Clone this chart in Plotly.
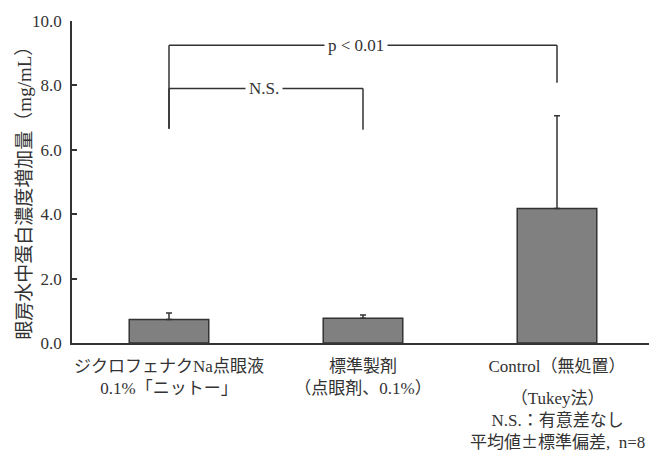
import plotly.graph_objects as go

categories = ["ジクロフェナクNa点眼液<br>0.1%「ニットー」", "標準製剤<br>（点眼剤、0.1%）", "Control（無処置）"]
means = [0.73, 0.77, 4.18]
sds = [0.20, 0.10, 2.88]
y_ticks = [0.0, 2.0, 4.0, 6.0, 8.0, 10.0]
y_title = "眼房水中蛋白濃度増加量（mg/mL）"
note_lines = ["（Tukey法）", "N.S.：有意差なし",
              "平均値<span style=\"font-family:Noto Sans CJK JP\">±</span>標準偏差,  n=8"]
# significance brackets: (from index, to index, bracket level, left foot, right foot, label, label x)
brackets = [
    (0, 2, 9.25, 6.65, 8.08, "p < 0.01", 0.965),
    (0, 1, 7.90, 6.65, 6.62, "N.S.", 0.49),
]

FONT = "Liberation Serif, Noto Sans CJK JP, serif"
INK = "#333333"

fig = go.Figure()
fig.add_trace(go.Bar(
    x=list(range(len(categories))),
    y=means,
    width=0.41,
    marker=dict(color="#808080", line=dict(color=INK, width=1.5)),
    error_y=dict(type="data", symmetric=False, array=sds, arrayminus=[0]*len(sds),
                 color=INK, thickness=1.5, width=3),
    showlegend=False,
))

shapes = []
annotations = []
for x0, x1, lvl, f0, f1, lab, lx in brackets:
    line = dict(color=INK, width=1.5)
    shapes.append(dict(type="line", xref="x", yref="y", x0=x0, x1=x1, y0=lvl, y1=lvl, line=line))
    shapes.append(dict(type="line", xref="x", yref="y", x0=x0, x1=x0, y0=f0, y1=lvl, line=line))
    shapes.append(dict(type="line", xref="x", yref="y", x0=x1, x1=x1, y0=f1, y1=lvl, line=line))
    annotations.append(dict(x=lx, y=lvl, xref="x", yref="y", text=lab, showarrow=False,
                            bgcolor="white", borderpad=3,
                            font=dict(family=FONT, size=17, color=INK)))

annotations.append(dict(x=2, y=-0.137, xref="x", yref="paper", yanchor="top",
                        text="<br>".join(note_lines), showarrow=False, align="center",
                        font=dict(family=FONT, size=17, color=INK)))
annotations.append(dict(x=-0.081, y=0.482, xref="paper", yref="paper", text=y_title,
                        textangle=-90, showarrow=False, xanchor="center", yanchor="middle",
                        font=dict(family=FONT, size=19, color=INK)))

fig.update_layout(
    width=649, height=447,
    margin=dict(l=64, r=3, t=13, b=112),
    paper_bgcolor="white", plot_bgcolor="white",
    font=dict(family=FONT, size=17, color=INK),
    shapes=shapes, annotations=annotations,
    xaxis=dict(range=[-0.5, 2.5], tickvals=list(range(len(categories))), ticktext=categories,
               showline=True, linecolor=INK, linewidth=1.5, ticks="", showgrid=False,
               automargin=False, ticklabelstandoff=7,
               zeroline=False, tickfont=dict(family=FONT, size=17, color=INK)),
    yaxis=dict(range=[0, 10], tickvals=y_ticks, tickformat=".1f", showline=True, linecolor=INK,
               linewidth=1.5, ticks="inside", ticklen=5, tickcolor=INK, tickwidth=1.5,
               automargin=False, ticklabelstandoff=5,
               showgrid=False, zeroline=False, tickfont=dict(family=FONT, size=17, color=INK)),
    bargap=0.5,
)

fig.write_html("out.html")
